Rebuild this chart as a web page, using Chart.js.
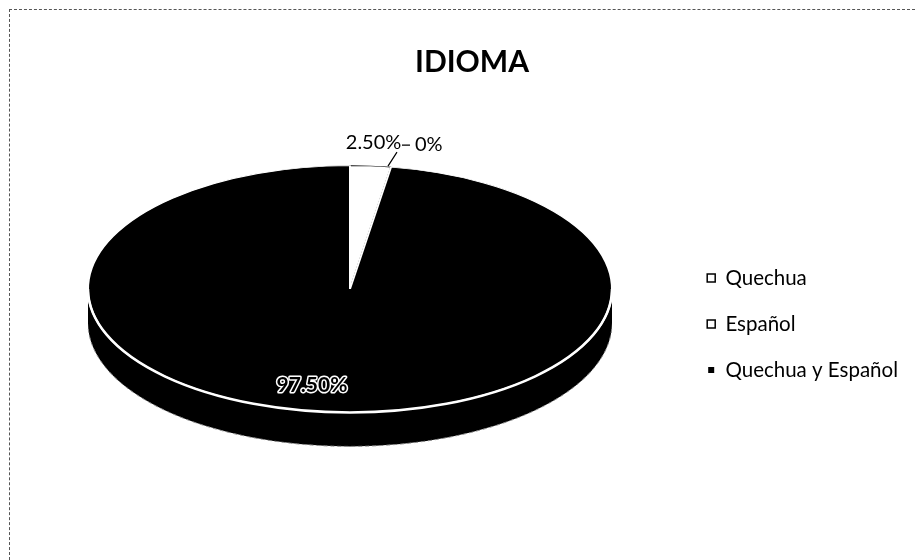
<!DOCTYPE html>
<html>
<head>
<meta charset="utf-8">
<script src="https://cdn.jsdelivr.net/npm/chart.js@4.4.1/dist/chart.umd.min.js"></script>
<style>
  html, body { margin: 0; padding: 0; background: #fff; }
  #wrap { position: relative; width: 915px; height: 560px; }
  #frame { position: absolute; left: 9px; top: 9px; right: 0; bottom: 0;
           border-top: 1px dashed #555; border-left: 1px dashed #555; }
</style>
</head>
<body>
<div id="wrap"><div id="frame"></div><canvas id="chart"></canvas></div>
<script>
// Data
const categories = ["Quechua", "Español", "Quechua y Español"];
const percentages = [2.5, 0, 97.5];
const valueLabels = ["2.50%", "0%", "97.50%"];
const sliceColors = ["#ffffff", "#ffffff", "#000000"];
const sliceBorders = ["#000000", "#000000", "#ffffff"];

// 3D look: squash the top face and add a side wall
const tilt = 0.471;
const depth = 34;
const faceCenter = { x: 350, y: 289 };

const toScreen = (arc, angle, f) => ({
  x: faceCenter.x + Math.cos(angle) * arc.outerRadius * f,
  y: faceCenter.y + Math.sin(angle) * arc.outerRadius * f * tilt,
});

const pie3d = {
  id: "pie3d",
  beforeDatasetsDraw(chart) {
    const ctx = chart.ctx;
    const arcs = chart.getDatasetMeta(0).data;
    const { x, y } = arcs[0];
    ctx.save();
    ctx.translate(faceCenter.x, faceCenter.y);
    ctx.scale(1, tilt);
    ctx.translate(-x, -y);

    // side wall, only the front half (0..PI) can be seen
    const drop = depth / tilt;
    arcs.forEach((arc) => {
      const a0 = Math.max(arc.startAngle, 0);
      const a1 = Math.min(arc.endAngle, Math.PI);
      if (a1 <= a0) return;
      ctx.beginPath();
      ctx.arc(x, y, arc.outerRadius, a0, a1);
      ctx.arc(x, y + drop, arc.outerRadius, a1, a0, true);
      ctx.closePath();
      ctx.fillStyle = arc.options.backgroundColor;
      ctx.fill();
    });
  },
  afterDatasetsDraw(chart) {
    const ctx = chart.ctx;
    ctx.restore();
    const arcs = chart.getDatasetMeta(0).data;
    const r = arcs[0].outerRadius;

    // white edge between top face and side
    ctx.save();
    ctx.beginPath();
    ctx.ellipse(faceCenter.x, faceCenter.y, r, r * tilt, 0, 0, Math.PI);
    ctx.strokeStyle = "#fff";
    ctx.lineWidth = 2.5;
    ctx.stroke();

    // faint outline of the bottom
    ctx.beginPath();
    ctx.ellipse(faceCenter.x, faceCenter.y + depth, r, r * tilt, 0, 0.05, Math.PI - 0.05);
    ctx.strokeStyle = "#888";
    ctx.lineWidth = 1;
    ctx.setLineDash([4, 3]);
    ctx.stroke();
    ctx.setLineDash([]);

    // labels
    ctx.font = "20px Lato";
    ctx.fillStyle = "#000";
    ctx.textBaseline = "middle";

    const a = arcs[0];
    const pa = toScreen(a, (a.startAngle + a.endAngle) / 2, 1);
    ctx.textAlign = "center";
    ctx.fillText(valueLabels[0], pa.x + 3, pa.y - 23);

    const b = arcs[1];
    const pb = toScreen(b, b.startAngle, 1);
    ctx.strokeStyle = "#000";
    ctx.lineWidth = 1.2;
    ctx.beginPath();
    ctx.moveTo(pb.x - 3, pb.y - 1);
    ctx.lineTo(pb.x + 6, pb.y - 15);
    ctx.moveTo(pb.x + 11, pb.y - 22);
    ctx.lineTo(pb.x + 19, pb.y - 22);
    ctx.stroke();
    ctx.textAlign = "left";
    ctx.fillText(valueLabels[1], pb.x + 24, pb.y - 23);

    const c = arcs[2];
    const pc = toScreen(c, (c.startAngle + c.endAngle) / 2, 0.78);
    ctx.textAlign = "center";
    ctx.font = "bold 21px Lato";
    ctx.lineWidth = 3;
    ctx.lineJoin = "round";
    ctx.strokeStyle = "#fff";
    ctx.strokeText(valueLabels[2], pc.x - 22, pc.y);
    ctx.fillStyle = "#000";
    ctx.fillText(valueLabels[2], pc.x - 22, pc.y);
    ctx.restore();
  },
};

Chart.defaults.font.family = "Lato";

new Chart(document.getElementById("chart"), {
  type: "pie",
  data: {
    labels: categories,
    datasets: [
      {
        data: percentages,
        backgroundColor: sliceColors,
        borderColor: sliceBorders,
        borderWidth: [1.5, 1.5, 2],
        radius: 262,
        clip: false,
      },
    ],
  },
  options: {
    responsive: true,
    maintainAspectRatio: false,
    animation: false,
    // negative bottom padding pulls the right legend down to the reference spot
    layout: { padding: { left: 36, right: 7, top: 20, bottom: -68 } },
    plugins: {
      title: {
        display: true,
        text: "IDIOMA",
        color: "#000",
        font: { size: 30, weight: "bold" },
        padding: { top: 24, bottom: 10 },
      },
      legend: {
        position: "right",
        labels: {
          color: "#000",
          font: { size: 20.5 },
          boxWidth: 8,
          boxHeight: 8,
          padding: 25.5,
        },
      },
      tooltip: { enabled: false },
    },
  },
  plugins: [pie3d],
});
</script>
</body>
</html>
